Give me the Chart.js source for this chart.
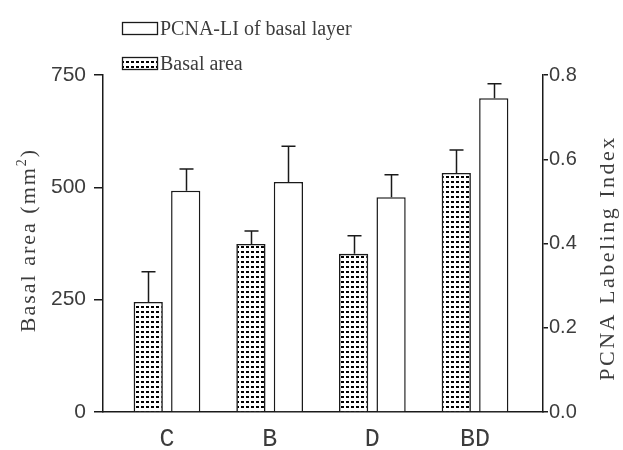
<!DOCTYPE html>
<html>
<head>
<meta charset="utf-8">
<script src="https://cdn.jsdelivr.net/npm/chart.js@4.4.1/dist/chart.umd.min.js"></script>
<style>
  html, body { margin: 0; background: #fff; }
  #caixa { width: 623px; height: 450px; }
</style>
</head>
<body>
<div id="caixa"><canvas id="grafico"></canvas></div>
<script>
// dados
const grupos = ['C', 'B', 'D', 'BD'];
const areaBasal = [245, 374, 352, 532];
const areaBasalErro = [67, 29, 40, 51];
const pcnaLI = [0.525, 0.546, 0.510, 0.745];
const pcnaErro = [0.052, 0.085, 0.053, 0.034];
const ticksArea = [0, 250, 500, 750];
const ticksPcna = [0, 0.2, 0.4, 0.6, 0.8];

const TINTA = '#1a1a1a';
const TEXTO = '#3c3c3c';

// padrão pontilhado das barras de área basal
function pontilhado() {
  const c = document.createElement('canvas');
  c.width = 5; c.height = 5;
  const g = c.getContext('2d');
  g.fillStyle = '#fff';
  g.fillRect(0, 0, 5, 5);
  g.fillStyle = '#000';
  g.fillRect(1, 1, 3, 2);
  return g.createPattern(c, 'repeat');
}
const padrao = pontilhado();

// barras de erro só para cima
const barrasErro = {
  id: 'barrasErro',
  afterDatasetsDraw(chart) {
    const ctx = chart.ctx;
    const erros = [areaBasalErro, pcnaErro];
    ctx.save();
    ctx.strokeStyle = TINTA;
    ctx.lineWidth = 1.5;
    chart.data.datasets.forEach((ds, d) => {
      const meta = chart.getDatasetMeta(d);
      const escala = chart.scales[ds.yAxisID];
      meta.data.forEach((bar, i) => {
        const v = ds.data[i].y;
        const yBase = escala.getPixelForValue(v);
        const yTopo = escala.getPixelForValue(v + erros[d][i]);
        const x = Math.round(bar.x) + 0.5;
        ctx.beginPath();
        ctx.moveTo(x, yBase);
        ctx.lineTo(x, yTopo);
        ctx.moveTo(x - 7, yTopo);
        ctx.lineTo(x + 7, yTopo);
        ctx.stroke();
      });
    });
    ctx.restore();
  }
};

// títulos dos eixos e legenda desenhados à mão
const textos = {
  id: 'textos',
  afterDraw(chart) {
    const ctx = chart.ctx;
    ctx.save();
    ctx.fillStyle = TEXTO;
    ctx.textBaseline = 'alphabetic';

    // título esquerdo
    ctx.save();
    ctx.font = '22px "Liberation Serif"';
    ctx.letterSpacing = '2px';
    const parte1 = 'Basal area (mm';
    const w1 = ctx.measureText(parte1).width;
    ctx.font = '14px "Liberation Serif"';
    const w2 = ctx.measureText('2').width;
    ctx.font = '22px "Liberation Serif"';
    const w3 = ctx.measureText(')').width;
    const total = w1 + w2 + w3;
    ctx.translate(35, 240);
    ctx.rotate(-Math.PI / 2);
    ctx.textAlign = 'left';
    ctx.fillText(parte1, -total / 2, 0);
    ctx.font = '14px "Liberation Serif"';
    ctx.fillText('2', -total / 2 + w1, -9);
    ctx.font = '22px "Liberation Serif"';
    ctx.fillText(')', -total / 2 + w1 + w2, 0);
    ctx.restore();

    // título direito
    ctx.save();
    ctx.font = '22px "Liberation Serif"';
    ctx.letterSpacing = '2.5px';
    ctx.translate(614, 258);
    ctx.rotate(-Math.PI / 2);
    ctx.textAlign = 'center';
    ctx.fillText('PCNA Labeling Index', 0, 0);
    ctx.restore();

    // legenda
    const itens = [
      { nome: chart.data.datasets[1].label, fundo: '#fff', y: 22 },
      { nome: chart.data.datasets[0].label, fundo: padrao, y: 57 }
    ];
    ctx.font = '20px "Liberation Serif"';
    ctx.textAlign = 'left';
    itens.forEach(it => {
      ctx.fillStyle = it.fundo;
      ctx.fillRect(122, it.y, 35, 12);
      ctx.strokeStyle = TINTA;
      ctx.lineWidth = 1.3;
      ctx.strokeRect(122.5, it.y + 0.5, 35, 12);
      ctx.fillStyle = TEXTO;
      ctx.fillText(it.nome, 160, it.y + 13);
    });
    ctx.restore();
  }
};

const ctx = document.getElementById('grafico').getContext('2d');
const grafico = new Chart(ctx, {
  type: 'bar',
  data: {
    datasets: [
      {
        label: 'Basal area',
        data: areaBasal.map((v, i) => ({ x: i, y: v })),
        yAxisID: 'yArea',
        backgroundColor: padrao,
        borderColor: TINTA,
        borderWidth: 1.6
      },
      {
        label: 'PCNA-LI of basal layer',
        data: pcnaLI.map((v, i) => ({ x: i, y: v })),
        yAxisID: 'yPcna',
        backgroundColor: '#fff',
        borderColor: TINTA,
        borderWidth: 1.5
      }
    ]
  },
  options: {
    responsive: true,
    maintainAspectRatio: false,
    animation: false,
    categoryPercentage: 0.73,
    barPercentage: 0.78,
    layout: { padding: { top: 75, left: 0, right: 0, bottom: 0 } },
    plugins: {
      legend: { display: false },
      tooltip: { enabled: false }
    },
    scales: {
      x: {
        type: 'linear',
        offset: false,
        min: -0.623,
        max: 3.662,
        afterBuildTicks: s => { s.ticks = grupos.map((_, i) => ({ value: i })); },
        afterFit: s => { s.height = 38; },
        grid: { display: false },
        border: { color: TINTA, width: 1.5 },
        ticks: {
          callback: v => grupos[v],
          color: TEXTO,
          padding: 4,
          maxRotation: 0,
          font: { family: '"Liberation Mono"', size: 25 }
        }
      },
      yArea: {
        position: 'left',
        min: 0,
        max: 750,
        afterBuildTicks: s => { s.ticks = ticksArea.map(v => ({ value: v })); },
        afterFit: s => { s.width = 103; },
        grid: { drawOnChartArea: false, drawTicks: true, tickLength: 9, color: TINTA, lineWidth: 1.5 },
        border: { color: TINTA, width: 1.5 },
        ticks: {
          color: TEXTO,
          padding: 8,
          font: { family: '"Liberation Sans"', size: 21 }
        }
      },
      yPcna: {
        position: 'right',
        min: 0,
        max: 0.8,
        afterBuildTicks: s => { s.ticks = ticksPcna.map(v => ({ value: v })); },
        afterFit: s => { s.width = 80; },
        grid: { drawOnChartArea: false, drawTicks: true, tickLength: 5, color: TINTA, lineWidth: 1.5 },
        border: { color: TINTA, width: 1.5 },
        ticks: {
          color: TEXTO,
          padding: 1,
          callback: v => v.toFixed(1),
          font: { family: '"Liberation Sans"', size: 20 }
        }
      }
    }
  },
  plugins: [barrasErro, textos]
});
</script>
</body>
</html>
